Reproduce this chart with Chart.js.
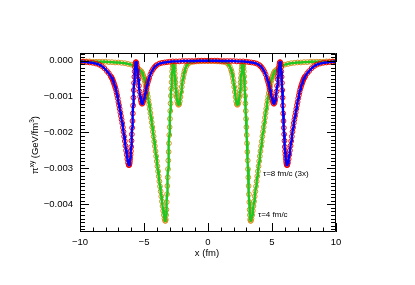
<!DOCTYPE html>
<html>
<head>
<meta charset="utf-8">
<script src="https://cdn.jsdelivr.net/npm/chart.js@4.4.1/dist/chart.umd.min.js"></script>
<style>
  body { margin: 0; background: #fff; }
  canvas { display: block; }
</style>
</head>
<body>
<canvas id="myChart" width="415" height="285"></canvas>
<script>
// tau = 4 fm/c, x in fm, y in 1e-3 GeV/fm^3
const tau4X = [
  -10,-9.75,-9.5,-9.25,-9,-8.75,-8.5,-8.25,-8,-7.75,-7.5,-7.25,-7,-6.75,-6.5,-6.25,-6,-5.75,-5.5,-5.4,-5.3,
  -5.2,-5.15,-5.1,-5.05,-5,-4.95,-4.9,-4.85,-4.8,-4.75,-4.7,-4.65,-4.6,-4.55,-4.5,-4.45,-4.4,-4.35,-4.3,-4.25,
  -4.2,-4.15,-4.1,-4.05,-4,-3.95,-3.9,-3.85,-3.8,-3.75,-3.7,-3.65,-3.6,-3.55,-3.5,-3.45,-3.4,
  -3.35,-3.325,-3.3,-3.275,-3.25,-3.225,-3.2,-3.175,-3.15,-3.125,-3.1,-3.075,-3.05,-3.025,-3,-2.975,-2.95,-2.925,-2.9,-2.875,
  -2.85,-2.825,-2.8,-2.775,-2.75,-2.725,-2.7,-2.675,-2.65,-2.625,-2.6,-2.575,-2.55,-2.525,-2.5,-2.475,-2.45,
  -2.4,-2.35,-2.3,-2.25,-2.2,-2.15,-2.1,-2.05,-2,-1.95,-1.9,-1.85,-1.8,-1.7,-1.6,-1.5,-1.3,-1.1,-0.9,-0.7,-0.5,-0.3,-0.1,
  0.1,0.3,0.5,0.7,0.9,1.1,1.3,1.5,1.6,1.7,1.8,1.85,1.9,1.95,2,2.05,2.1,2.15,2.2,2.25,2.3,2.35,2.4,
  2.45,2.475,2.5,2.525,2.55,2.575,2.6,2.625,2.65,2.675,2.7,2.725,2.75,2.775,2.8,2.825,2.85,
  2.875,2.9,2.925,2.95,2.975,3,3.025,3.05,3.075,3.1,3.125,3.15,3.175,3.2,3.225,3.25,3.275,3.3,3.325,3.35,
  3.4,3.45,3.5,3.55,3.6,3.65,3.7,3.75,3.8,3.85,3.9,3.95,4,4.05,4.1,4.15,4.2,
  4.25,4.3,4.35,4.4,4.45,4.5,4.55,4.6,4.65,4.7,4.75,4.8,4.85,4.9,4.95,5,5.05,5.1,5.15,5.2,
  5.3,5.4,5.5,5.75,6,6.25,6.5,6.75,7,7.25,7.5,7.75,8,8.25,8.5,8.75,9,9.25,9.5,9.75,10
];
const tau4Y = [
  -0.02,-0.02,-0.02,-0.02,-0.03,-0.03,-0.03,-0.03,-0.03,-0.04,-0.04,-0.05,-0.05,-0.06,-0.07,-0.09,-0.11,-0.15,-0.21,-0.24,-0.27,
  -0.30,-0.34,-0.38,-0.43,-0.48,-0.55,-0.62,-0.71,-0.80,-0.90,-1.00,-1.11,-1.22,-1.34,-1.46,-1.59,-1.72,-1.85,-1.98,-2.11,
  -2.25,-2.38,-2.52,-2.66,-2.80,-2.94,-3.08,-3.22,-3.36,-3.50,-3.64,-3.78,-3.92,-4.05,-4.18,-4.30,-4.40,
  -4.46,-4.46,-4.42,-4.30,-4.15,-3.94,-3.72,-3.49,-3.25,-3.02,-2.78,-2.54,-2.30,-2.07,-1.85,-1.62,-1.40,-1.19,-0.98,-0.78,
  -0.60,-0.44,-0.30,-0.20,-0.12,-0.08,-0.07,-0.10,-0.16,-0.25,-0.36,-0.48,-0.60,-0.72,-0.83,-0.93,-1.01,
  -1.13,-1.20,-1.23,-1.21,-1.13,-1.01,-0.87,-0.73,-0.60,-0.49,-0.39,-0.31,-0.25,-0.16,-0.10,-0.07,-0.04,-0.03,-0.02,-0.02,-0.01,-0.01,-0.01,
  -0.01,-0.01,-0.01,-0.02,-0.02,-0.03,-0.04,-0.07,-0.10,-0.16,-0.25,-0.31,-0.39,-0.49,-0.60,-0.73,-0.87,-1.01,-1.13,-1.21,-1.23,-1.20,-1.13,
  -1.01,-0.93,-0.83,-0.72,-0.60,-0.48,-0.36,-0.25,-0.16,-0.10,-0.07,-0.08,-0.12,-0.20,-0.30,-0.44,-0.60,
  -0.78,-0.98,-1.19,-1.40,-1.62,-1.85,-2.07,-2.30,-2.54,-2.78,-3.02,-3.25,-3.49,-3.72,-3.94,-4.15,-4.30,-4.42,-4.46,-4.46,
  -4.40,-4.30,-4.18,-4.05,-3.92,-3.78,-3.64,-3.50,-3.36,-3.22,-3.08,-2.94,-2.80,-2.66,-2.52,-2.38,-2.25,
  -2.11,-1.98,-1.85,-1.72,-1.59,-1.46,-1.34,-1.22,-1.11,-1.00,-0.90,-0.80,-0.71,-0.62,-0.55,-0.48,-0.43,-0.38,-0.34,-0.30,
  -0.27,-0.24,-0.21,-0.15,-0.11,-0.09,-0.07,-0.06,-0.05,-0.05,-0.04,-0.04,-0.03,-0.03,-0.03,-0.03,-0.03,-0.02,-0.02,-0.02,-0.02
];

// tau = 8 fm/c (already multiplied by 3), y in 1e-3 GeV/fm^3
const tau8X = [
  -10,-9.75,-9.5,-9.25,-9,-8.75,-8.5,-8.3,-8.1,-7.9,-7.75,
  -7.6,-7.55,-7.5,-7.45,-7.4,-7.35,-7.3,-7.25,-7.2,-7.15,-7.1,-7.05,-7,-6.95,-6.9,-6.85,-6.8,-6.75,-6.7,-6.65,
  -6.6,-6.55,-6.5,-6.45,-6.4,-6.35,-6.3,-6.25,
  -6.2,-6.175,-6.15,-6.125,-6.1,-6.075,-6.05,-6.025,-6,-5.975,-5.95,-5.925,-5.9,-5.875,-5.85,-5.825,-5.8,-5.775,-5.75,-5.725,
  -5.7,-5.675,-5.65,-5.625,-5.6,-5.575,-5.55,-5.525,-5.5,-5.475,-5.45,
  -5.4,-5.35,-5.3,-5.25,-5.2,-5.15,-5.1,-5.05,-5,-4.95,-4.9,-4.85,-4.8,-4.75,-4.7,-4.65,
  -4.6,-4.5,-4.4,-4.3,-4.2,-4.1,-4,-3.8,-3.6,-3.4,-3.2,-3,-2.75,-2.5,-2.25,-2,-1.75,-1.5,-1.25,-1,-0.75,-0.5,-0.25,
  0,
  0.25,0.5,0.75,1,1.25,1.5,1.75,2,2.25,2.5,2.75,3,3.2,3.4,3.6,3.8,4,4.1,4.2,4.3,4.4,4.5,4.6,
  4.65,4.7,4.75,4.8,4.85,4.9,4.95,5,5.05,5.1,5.15,5.2,5.25,5.3,5.35,5.4,
  5.45,5.475,5.5,5.525,5.55,5.575,5.6,5.625,5.65,5.675,5.7,
  5.725,5.75,5.775,5.8,5.825,5.85,5.875,5.9,5.925,5.95,5.975,6,6.025,6.05,6.075,6.1,6.125,6.15,6.175,6.2,
  6.25,6.3,6.35,6.4,6.45,6.5,6.55,6.6,
  6.65,6.7,6.75,6.8,6.85,6.9,6.95,7,7.05,7.1,7.15,7.2,7.25,7.3,7.35,7.4,7.45,7.5,7.55,7.6,
  7.75,7.9,8.1,8.3,8.5,8.75,9,9.25,9.5,9.75,10
];
const tau8Y = [
  -0.03,-0.03,-0.04,-0.05,-0.06,-0.08,-0.11,-0.15,-0.21,-0.29,-0.35,
  -0.43,-0.46,-0.49,-0.53,-0.58,-0.63,-0.68,-0.74,-0.80,-0.88,-0.96,-1.05,-1.15,-1.24,-1.34,-1.44,-1.54,-1.64,-1.74,-1.86,
  -1.98,-2.11,-2.24,-2.37,-2.50,-2.62,-2.74,-2.84,
  -2.90,-2.91,-2.90,-2.86,-2.80,-2.72,-2.62,-2.52,-2.40,-2.23,-2.05,-1.87,-1.68,-1.47,-1.25,-1.03,-0.82,-0.62,-0.45,-0.30,
  -0.18,-0.10,-0.05,-0.04,-0.06,-0.11,-0.18,-0.26,-0.35,-0.43,-0.52,
  -0.70,-0.86,-1.00,-1.10,-1.17,-1.20,-1.18,-1.12,-1.05,-0.98,-0.90,-0.82,-0.74,-0.67,-0.60,-0.54,
  -0.48,-0.38,-0.30,-0.24,-0.19,-0.15,-0.12,-0.08,-0.06,-0.05,-0.04,-0.03,-0.02,-0.02,-0.02,-0.01,-0.01,-0.01,-0.01,-0.01,0,0,0,
  0,
  0,0,0,-0.01,-0.01,-0.01,-0.01,-0.01,-0.02,-0.02,-0.02,-0.03,-0.04,-0.05,-0.06,-0.08,-0.12,-0.15,-0.19,-0.24,-0.30,-0.38,-0.48,
  -0.54,-0.60,-0.67,-0.74,-0.82,-0.90,-0.98,-1.05,-1.12,-1.18,-1.20,-1.17,-1.10,-1.00,-0.86,-0.70,
  -0.52,-0.43,-0.35,-0.26,-0.18,-0.11,-0.06,-0.04,-0.05,-0.10,-0.18,
  -0.30,-0.45,-0.62,-0.82,-1.03,-1.25,-1.47,-1.68,-1.87,-2.05,-2.23,-2.40,-2.52,-2.62,-2.72,-2.80,-2.86,-2.90,-2.91,-2.90,
  -2.84,-2.74,-2.62,-2.50,-2.37,-2.24,-2.11,-1.98,
  -1.86,-1.74,-1.64,-1.54,-1.44,-1.34,-1.24,-1.15,-1.05,-0.96,-0.88,-0.80,-0.74,-0.68,-0.63,-0.58,-0.53,-0.49,-0.46,-0.43,
  -0.35,-0.29,-0.21,-0.15,-0.11,-0.08,-0.06,-0.05,-0.04,-0.03,-0.03
];

const xTicks = [-10, -5, 0, 5, 10];
const xTickLabels = ['\u221210', '\u22125', '0', '5', '10'];
const yTicks = [0, -0.001, -0.002, -0.003, -0.004];
const yTickLabels = ['0.000', '\u22120.001', '\u22120.002', '\u22120.003', '\u22120.004'];
const xMin = -10, xMax = 10;
const yMin = -0.004772, yMax = 0.000214;

const FONT = '"Liberation Sans", Arial, sans-serif';

function toPoints(xs, ys) {
    return xs.map((x, i) => ({ x: x, y: ys[i] * 1e-3 }));
}

// frame, inward ticks, titles and the two notes
const decorations = {
    id: 'decorations',
    afterDraw(chart) {
        const { ctx, chartArea: a, scales: { x, y } } = chart;
        ctx.save();
        ctx.strokeStyle = '#000';
        ctx.lineWidth = 1;
        ctx.beginPath();
        ctx.rect(a.left + 0.5, a.top + 0.5, a.right - a.left - 1, a.bottom - a.top - 1);
        // x ticks, bottom and top
        for (let v = xMin; v <= xMax; v += 1) {
            const px = Math.round(x.getPixelForValue(v)) + 0.5;
            const len = (v % 5 === 0) ? 9 : 4.5;
            ctx.moveTo(px, a.bottom); ctx.lineTo(px, a.bottom - len);
            ctx.moveTo(px, a.top); ctx.lineTo(px, a.top + len);
        }
        // y ticks, left and right
        for (let k = -47; k <= 2; k++) {
            const py = Math.round(y.getPixelForValue(k * 1e-4)) + 0.5;
            const len = (k % 10 === 0) ? 9 : 5;
            ctx.moveTo(a.left, py); ctx.lineTo(a.left + len, py);
            ctx.moveTo(a.right, py); ctx.lineTo(a.right - len, py);
        }
        ctx.stroke();

        ctx.fillStyle = '#000';
        // x title
        ctx.font = '9.5px ' + FONT;
        ctx.textAlign = 'center';
        ctx.textBaseline = 'middle';
        ctx.fillText('x (fm)', (a.left + a.right) / 2 - 1, 253);

        // y title with superscripts
        const big = '9.5px ' + FONT, small = '6.5px ' + FONT;
        const parts = [['\u03c0', big, 0], ['xy', small, -4], [' (GeV/fm', big, 0], ['3', small, -4], [')', big, 0]];
        let total = 0;
        parts.forEach(p => { ctx.font = p[1]; total += ctx.measureText(p[0]).width; });
        ctx.translate(37.5, 145);
        ctx.rotate(-Math.PI / 2);
        ctx.textAlign = 'left';
        ctx.textBaseline = 'alphabetic';
        let cx = -total / 2;
        parts.forEach(p => {
            ctx.font = p[1];
            ctx.fillText(p[0], cx, p[2]);
            cx += ctx.measureText(p[0]).width;
        });
        ctx.setTransform(1, 0, 0, 1, 0, 0);

        // notes
        ctx.font = '8px ' + FONT;
        ctx.textAlign = 'left';
        ctx.textBaseline = 'middle';
        ctx.fillText('\u03c4=8 fm/c (3x)', 263, 174);
        ctx.fillText('\u03c4=4 fm/c', 258, 215);
        ctx.restore();
    }
};

const ctx = document.getElementById('myChart').getContext('2d');
const chart = new Chart(ctx, {
    type: 'line',
    data: {
        datasets: [
            {
                label: 'tau8 line',
                data: toPoints(tau8X, tau8Y),
                borderColor: '#0000ff',
                borderWidth: 2.4,
                borderJoinStyle: 'round',
                borderCapStyle: 'round',
                pointRadius: 0,
                fill: false,
                order: 0
            },
            {
                label: 'tau8 points',
                data: toPoints(tau8X, tau8Y),
                showLine: false,
                pointStyle: 'circle',
                pointRadius: 2.4,
                pointBorderWidth: 1,
                pointBorderColor: '#f00000',
                pointBackgroundColor: 'rgba(0,0,0,0)',
                order: 1
            },
            {
                label: 'tau4 line',
                data: toPoints(tau4X, tau4Y),
                borderColor: '#1ec81e',
                borderWidth: 2.4,
                borderJoinStyle: 'round',
                borderCapStyle: 'round',
                pointRadius: 0,
                fill: false,
                order: 2
            },
            {
                label: 'tau4 points',
                data: toPoints(tau4X, tau4Y),
                showLine: false,
                pointStyle: 'circle',
                pointRadius: 2.4,
                pointBorderWidth: 1,
                pointBorderColor: '#d4901e',
                pointBackgroundColor: 'rgba(0,0,0,0)',
                order: 3
            }
        ]
    },
    options: {
        responsive: false,
        animation: false,
        devicePixelRatio: 1,
        layout: { padding: { top: 53, right: 79, left: 0, bottom: 0 } },
        plugins: { legend: { display: false }, tooltip: { enabled: false } },
        scales: {
            x: {
                type: 'linear',
                min: xMin,
                max: xMax,
                afterFit: s => { s.height = 53; },
                afterBuildTicks: s => { s.ticks = xTicks.map(v => ({ value: v })); },
                grid: { display: false, drawTicks: false },
                border: { display: false },
                ticks: {
                    padding: 5,
                    color: '#000',
                    font: { family: FONT, size: 9.5 },
                    maxRotation: 0,
                    callback: (v, i) => xTickLabels[i]
                }
            },
            y: {
                type: 'linear',
                min: yMin,
                max: yMax,
                afterFit: s => { s.width = 80; },
                afterBuildTicks: s => { s.ticks = yTicks.map(v => ({ value: v })); },
                grid: { display: false, drawTicks: false },
                border: { display: false },
                ticks: {
                    padding: 7,
                    color: '#000',
                    font: { family: FONT, size: 9.5 },
                    callback: (v, i) => yTickLabels[i]
                }
            }
        }
    },
    plugins: [decorations]
});
</script>
</body>
</html>
